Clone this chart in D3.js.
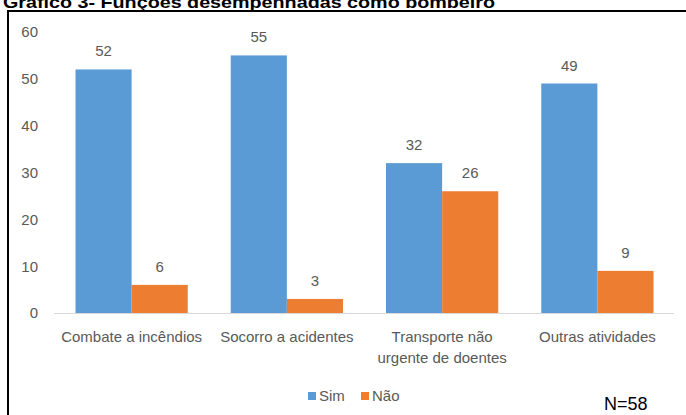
<!doctype html>
<html lang="pt">
<head>
    <meta charset="utf-8"/>
    <title>Gráfico 3</title>
    <style>
        body { margin: 0; background: #fff; }
        svg { display: block; }
    </style>
</head>
<body>
    <svg id="chart"></svg>
    <script src="https://d3js.org/d3.v7.min.js"></script>
    <script>
        // data
        const categories = [["Combate a incêndios"], ["Socorro a acidentes"], ["Transporte não", "urgente de doentes"], ["Outras atividades"]];
        const seriesNames = ["Sim", "Não"];
        const sim = [52, 55, 32, 49];
        const nao = [6, 3, 26, 9];
        const yTicks = [0, 10, 20, 30, 40, 50, 60];
        const colors = ["#5b9bd5", "#ed7d31"];

        const width = 686, height = 415;
        const font = "'Liberation Sans', Arial, sans-serif";

        const svg = d3.select("#chart")
            .attr("width", width)
            .attr("height", height)
            .style("font-family", font);

        // title (clipped at the top like in the scan)
        svg.append("text")
            .attr("x", 3)
            .attr("y", 8)
            .attr("font-size", 17)
            .attr("font-weight", "bold")
            .attr("fill", "#000")
            .attr("textLength", 492)
            .attr("lengthAdjust", "spacingAndGlyphs")
            .text("Gráfico 3- Funções desempenhadas como bombeiro");

        // frame
        svg.append("path")
            .attr("d", "M8,415 V11 H686")
            .attr("fill", "none")
            .attr("stroke", "#000")
            .attr("stroke-width", 2);

        const x0 = d3.scaleBand()
            .domain(d3.range(categories.length))
            .range([54, 675])
            .paddingInner(0.277)
            .paddingOuter(0.1385);

        const x1 = d3.scaleBand()
            .domain(d3.range(seriesNames.length))
            .range([0, x0.bandwidth()]);

        const y = d3.scaleLinear()
            .domain([0, 60])
            .range([313, 32]);

        // y tick labels
        svg.append("g")
            .selectAll("text")
            .data(yTicks)
            .join("text")
                .attr("x", 38)
                .attr("y", d => y(d))
                .attr("dy", "0.36em")
                .attr("text-anchor", "end")
                .attr("font-size", 15)
                .attr("fill", "#595959")
                .text(d => d);

        const rows = categories.map((c, i) => [sim[i], nao[i]]);

        const groups = svg.append("g")
            .selectAll("g")
            .data(rows)
            .join("g")
                .attr("transform", (d, i) => `translate(${x0(i)},0)`);

        groups.selectAll("rect")
            .data(d => d)
            .join("rect")
                .attr("x", (d, j) => x1(j))
                .attr("y", d => y(d))
                .attr("width", x1.bandwidth())
                .attr("height", d => y(0) - y(d))
                .attr("fill", (d, j) => colors[j]);

        groups.selectAll("text")
            .data(d => d)
            .join("text")
                .attr("x", (d, j) => x1(j) + x1.bandwidth() / 2)
                .attr("y", d => y(d) - 13)
                .attr("text-anchor", "middle")
                .attr("font-size", 15)
                .attr("fill", "#595959")
                .text(d => d);

        // baseline
        svg.append("line")
            .attr("x1", 54)
            .attr("x2", 674)
            .attr("y1", y(0) + 0.5)
            .attr("y2", y(0) + 0.5)
            .attr("stroke", "#d9d9d9")
            .attr("stroke-width", 1.2);

        // category labels
        const catLabels = svg.append("g")
            .selectAll("text")
            .data(categories)
            .join("text")
                .attr("x", (d, i) => x0(i) + x0.bandwidth() / 2)
                .attr("y", 342)
                .attr("text-anchor", "middle")
                .attr("font-size", 15)
                .attr("fill", "#595959");
        catLabels.selectAll("tspan")
            .data(d => d)
            .join("tspan")
                .attr("x", function () { return this.parentNode.getAttribute("x"); })
                .attr("dy", (d, k) => k === 0 ? 0 : 21)
                .text(d => d);

        // legend
        const legendX = [308, 361];
        const legend = svg.append("g")
            .selectAll("g")
            .data(seriesNames)
            .join("g")
                .attr("transform", (d, i) => `translate(${legendX[i]},392)`);
        legend.append("rect")
            .attr("width", 8)
            .attr("height", 8)
            .attr("fill", (d, i) => colors[i]);
        legend.append("text")
            .attr("x", 11)
            .attr("y", 9)
            .attr("font-size", 15)
            .attr("fill", "#595959")
            .text(d => d);

        // sample size note
        svg.append("text")
            .attr("x", 604)
            .attr("y", 410)
            .attr("font-size", 18)
            .attr("fill", "#000")
            .text("N=58");
    </script>
</body>
</html>
